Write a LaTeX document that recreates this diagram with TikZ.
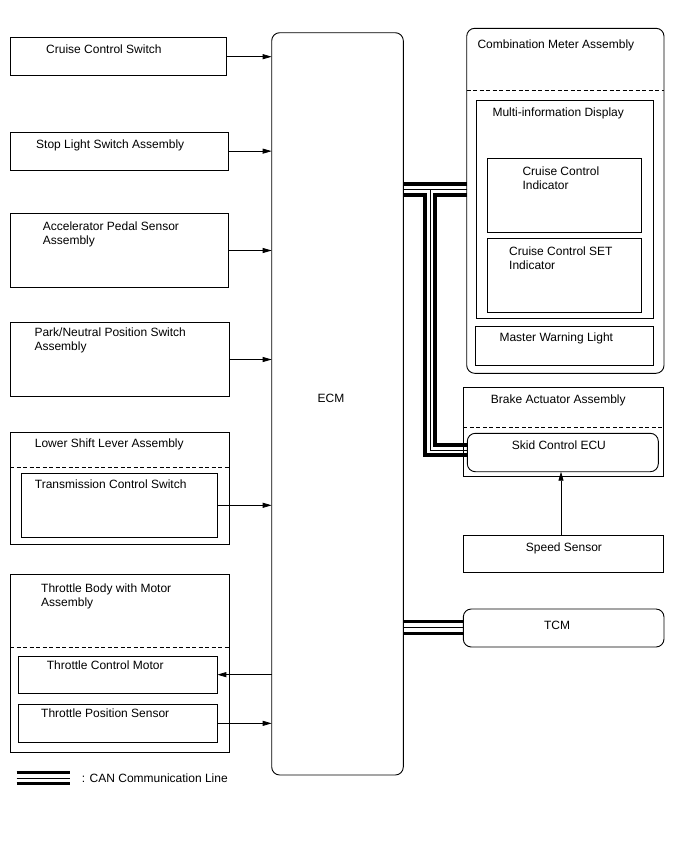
\documentclass[tikz,border=0pt]{standalone}
\usepackage{fontspec}
\setmainfont{Liberation Sans}
\usetikzlibrary{arrows.meta,calc}
\begin{document}
\begin{tikzpicture}[x=1pt,y=-1pt,
  box/.style={draw, line width=0.9pt, outer sep=0pt, inner sep=0pt, anchor=north west},
  rbox/.style={box, rounded corners=8pt},
  lbl/.style={anchor=north west, inner sep=0pt, font=\fontsize{12}{14}\selectfont, align=left},
  arr/.style={line width=0.8pt, -{Triangle[length=9pt,width=5pt]}},
  dsh/.style={line width=0.9pt, dash pattern=on 4pt off 2.5pt},
  thk/.style={line width=3.3pt, line join=miter},
  thn/.style={line width=1pt, line join=miter}]
\useasboundingbox (0,0) rectangle (688,852);
\fill[white] (0,0) rectangle (688,852);

% ECM
\node[rbox, minimum width=131.6pt, minimum height=742.3pt] (ecm) at (271.7,32.7) {};
\node[anchor=center, inner sep=0pt, font=\fontsize{12}{14}\selectfont] (ecmt) at (331,398) {ECM};

% Left boxes
\node[box, minimum width=216.7pt, minimum height=38pt] (ccs) at (10,37.7) {};
\node[lbl] (ccst) at (46,44.3) {Cruise Control Switch};

\node[box, minimum width=218.3pt, minimum height=37.7pt] (sls) at (10,132.3) {};
\node[lbl] (slst) at (36,140) {Stop Light Switch Assembly};

\node[box, minimum width=218pt, minimum height=74.4pt] (aps) at (10,213.3) {};
\node[lbl] (apst) at (42.7,221.7) {Accelerator Pedal Sensor\\Assembly};

\node[box, minimum width=219.3pt, minimum height=74.4pt] (pnp) at (10,322.3) {};
\node[lbl] (pnpt) at (34.3,327.7) {Park/Neutral Position Switch\\Assembly};

\node[box, minimum width=219.3pt, minimum height=111.3pt] (lsl) at (10,432.7) {};
\node[lbl] (lslt) at (34.7,438.3) {Lower Shift Lever Assembly};
\draw[dsh] (lsl.west |- 0,467.7) -- (lsl.east |- 0,467.7);
\node[box, minimum width=196pt, minimum height=64pt] (tcs) at (21.3,473.3) {};
\node[lbl] (tcst) at (34.7,480) {Transmission Control Switch};

\node[box, minimum width=219pt, minimum height=177.3pt] (tbm) at (10,574.7) {};
\node[lbl] (tbmt) at (41,584) {Throttle Body with Motor\\Assembly};
\draw[dsh] (tbm.west |- 0,647.7) -- (tbm.east |- 0,647.7);
\node[box, minimum width=198.6pt, minimum height=37.3pt] (tcm) at (18.7,656) {};
\node[lbl] (tcmt) at (46.7,660.4) {Throttle Control Motor};
\node[box, minimum width=198.6pt, minimum height=37.3pt] (tps) at (18.7,704.7) {};
\node[lbl] (tpst) at (41,708.1) {Throttle Position Sensor};

% Arrows left
\draw[arr] (ccs.east) -- (ccs.east -| ecm.west);
\draw[arr] (sls.east) -- (sls.east -| ecm.west);
\draw[arr] (aps.east) -- (aps.east -| ecm.west);
\draw[arr] (pnp.east) -- (pnp.east -| ecm.west);
\draw[arr] (tcs.east) -- (tcs.east -| ecm.west);
\draw[arr] (tcm.east -| ecm.west) -- (tcm.east);
\draw[arr] (tps.east) -- (tps.east -| ecm.west);

% Combination meter
\node[rbox, minimum width=197.3pt, minimum height=345pt] (cm) at (466.7,28.3) {};
\node[lbl] (cmt) at (477.3,39.3) {Combination Meter Assembly};
\draw[dsh] (cm.west |- 0,90) -- (cm.east |- 0,90);
\node[box, minimum width=176.6pt, minimum height=218.3pt] (mid) at (476.7,100) {};
\node[lbl] (midt) at (492.3,107.4) {Multi-information Display};
\node[box, minimum width=154.4pt, minimum height=74pt] (cci) at (487.3,158.3) {};
\node[lbl] (ccit) at (522.3,166.4) {Cruise Control\\Indicator};
\node[box, minimum width=154.4pt, minimum height=73.6pt] (ccsi) at (487.3,238.7) {};
\node[lbl] (ccsit) at (509,246.4) {Cruise Control SET\\Indicator};
\node[box, minimum width=178.3pt, minimum height=38.3pt] (mwl) at (475,326.7) {};
\node[lbl] (mwlt) at (499.3,332.1) {Master Warning Light};

% Brake actuator
\node[box, minimum width=200pt, minimum height=89.4pt] (ba) at (463.3,387.3) {};
\node[lbl] (bat) at (490.7,394.7) {Brake Actuator Assembly};
\draw[dsh] (ba.west |- 0,427.3) -- (ba.east |- 0,427.3);
\node[rbox, minimum width=191pt, minimum height=38.4pt] (skid) at (467.3,433.3) {};
\node[lbl] (skidt) at (511.7,440.4) {Skid Control ECU};

% Speed sensor
\node[box, minimum width=200pt, minimum height=37.7pt] (ss) at (463.3,535) {};
\node[lbl] (sst) at (525.7,542.1) {Speed Sensor};
\draw[arr] (ss.north -| 561,0) -- (skid.south -| 561,0);

% TCM
\node[rbox, minimum width=200.7pt, minimum height=38pt] (tcmu) at (463.3,609) {};
\node[anchor=base, inner sep=0pt, font=\fontsize{12}{14}\selectfont] (tcmut) at (557,629) {TCM};

% CAN lines ECM - meter / skid
\coordinate (o1) at (425,195);
\coordinate (o2) at (425,455);
\coordinate (m1) at (430,189.5);
\coordinate (m2) at (430,450);
\coordinate (i1) at (435,195);
\coordinate (i2) at (435,445);
\draw[thk] (ecm.east |- 0,184) -- (cm.west |- 0,184);
\draw[thn] (ecm.east |- 0,189.5) -- (cm.west |- 0,189.5);
\draw[thn] (m1) -- (m2) -- (m2 -| skid.west);
\draw[thk] (ecm.east |- o1) -- (o1) -- (o2) -- (o2 -| skid.west);
\draw[thk] (cm.west |- i1) -- (i1) -- (i2) -- (i2 -| skid.west);

% CAN lines ECM - TCM
\draw[thk] (ecm.east |- 0,621.7) -- (tcmu.west |- 0,621.7);
\draw[thn] (ecm.east |- 0,627.5) -- (tcmu.west |- 0,627.5);
\draw[thk] (ecm.east |- 0,633.3) -- (tcmu.west |- 0,633.3);

% Legend
\coordinate (lg1) at (16.7,772.5);
\coordinate (lg2) at (70,772.5);
\draw[thk] (lg1) -- (lg2);
\draw[thn] ($(lg1)+(0,5.5)$) -- ($(lg2)+(0,5.5)$);
\draw[thk] ($(lg1)+(0,11)$) -- ($(lg2)+(0,11)$);
\node[lbl] (lgt) at (81.7,773.5) {: CAN Communication Line};
\end{tikzpicture}
\end{document}
